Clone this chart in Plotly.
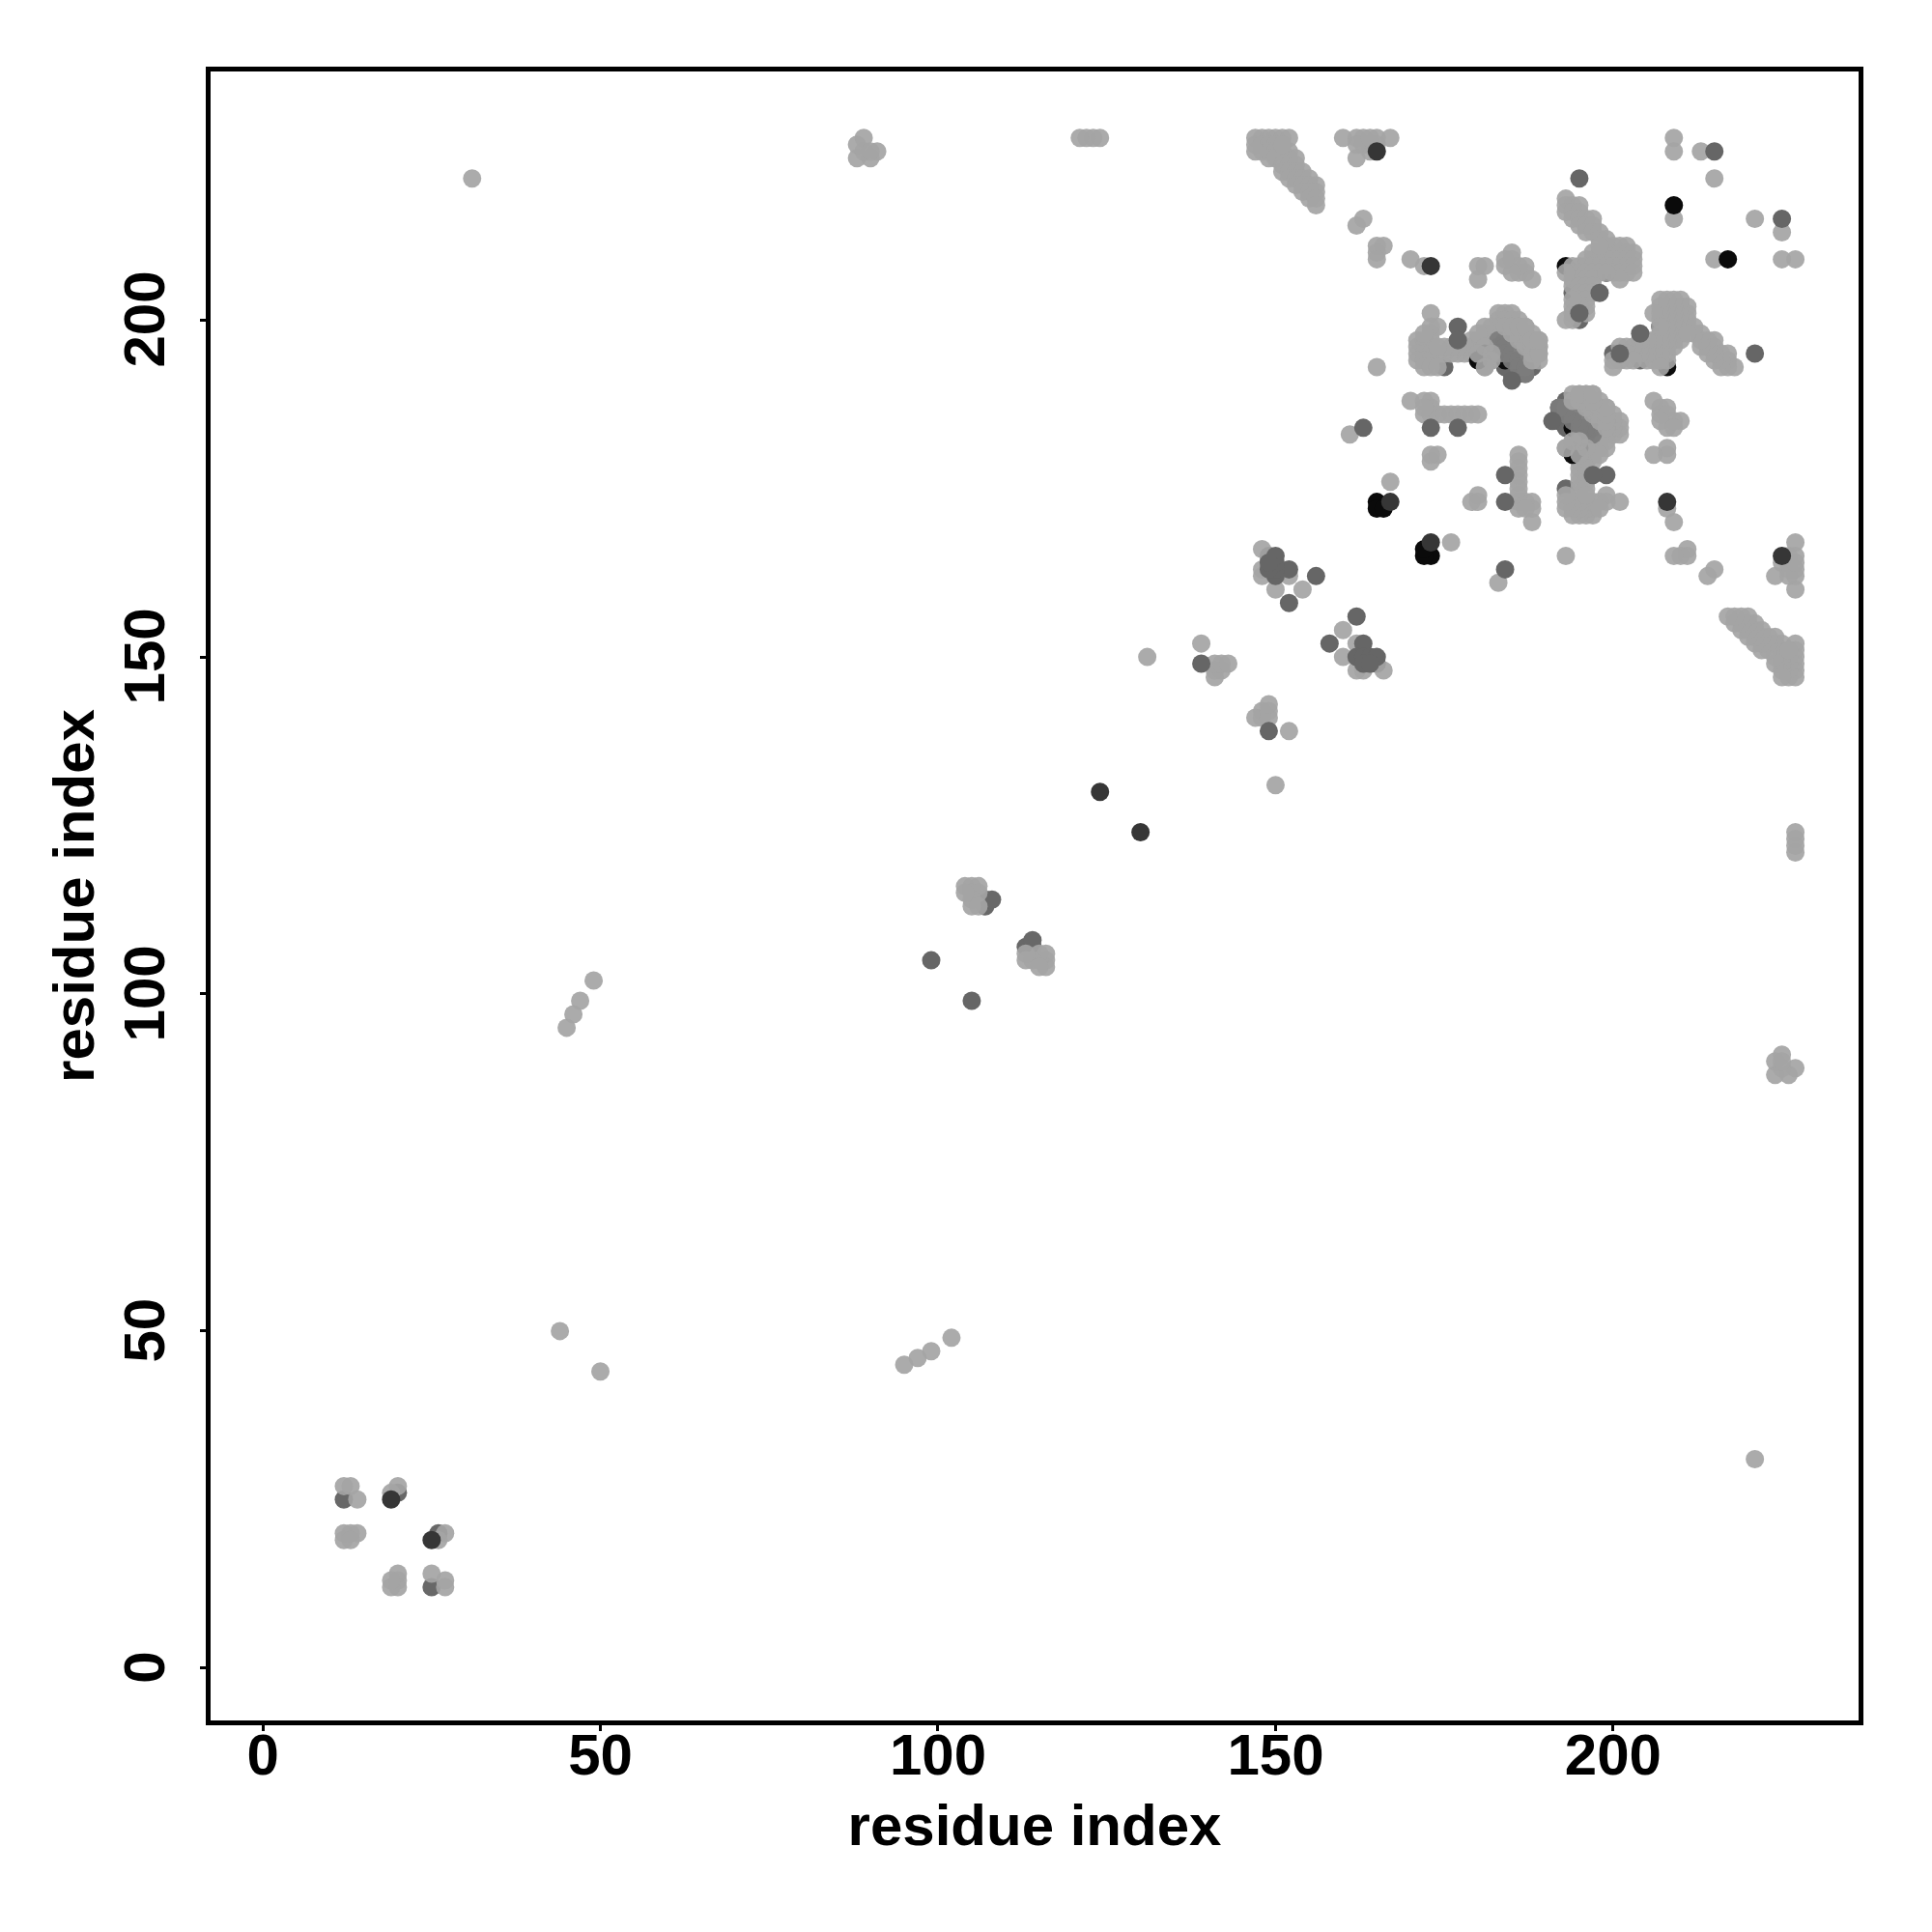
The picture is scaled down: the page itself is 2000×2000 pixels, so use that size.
import plotly.graph_objects as go

tick_values = [0, 50, 100, 150, 200]
axis_title = "residue index"

light_contacts = [
 (13,27),(12,27),(14,25),(20,27),(19,26),(26,19),(27,20),(12,20),(13,20),(14,20),(12,19),(13,19),(25,14),(27,13),(27,12),
 (221,31),(50,44),(95,45),(97,46),(99,47),(102,49),
 (116,104),(116,105),(116,106),(115,105),(115,106),(114,105),(113,105),(113,106),(115,104),
 (150,131),(152,139),(147,141),(148,141),(148,142),(149,141),(149,142),(149,143),
 (160,154),(162,152),(160,150),(162,148),(166,148),(163,148),
 (224,88),(226,88),(227,89),(225,91),(224,90),(225,89),(225,90),(227,124),(227,123),(227,122),(227,121),
 (147,227),(148,227),(149,227),(150,227),(151,227),(152,227),(147,226),(148,226),(149,226),(150,226),
 (148,225),(149,225),(150,225),(151,225),(152,225),(149,224),(150,224),(152,224),(153,224),
 (151,223),(152,223),(153,223),(151,222),(152,222),(153,222),(154,222),(152,221),(153,221),(154,221),(155,221),
 (153,220),(154,220),(155,220),(156,220),(154,219),(155,219),(156,219),(155,218),(156,218),(156,217),
 (160,227),(162,227),(163,227),(165,227),(167,227),(162,224),(163,226),(164,226),(165,226),
 (209,227),(209,225),(213,225),(215,221),(209,215),(221,215),(225,213),(215,209),(225,209),(227,209),
 (163,215),(162,214),(165,211),(166,211),(165,210),(165,209),(170,209),(172,208),
 (180,208),(181,208),(180,206),(185,210),(185,209),(184,208),(187,208),(186,207),(187,207),(188,206),
 (193,218),(193,217),(194,217),(195,217),(193,216),(194,216),(195,216),(194,215),(195,215),(196,215),(197,215),
 (195,214),(196,214),(197,214),(196,213),(197,213),(198,213),
 (199,211),(200,211),(201,211),(202,211),(197,210),(198,210),(199,210),(200,210),(201,210),(202,210),(203,210),
 (196,209),(197,209),(198,209),(199,209),(200,209),(201,209),(202,209),(203,209),
 (194,208),(195,208),(196,208),(197,208),(198,208),(199,208),(200,208),(201,208),(202,208),(203,208),
 (194,207),(195,207),(196,207),(197,207),(198,207),(200,207),(201,207),(202,207),(203,207),
 (194,206),(195,206),(196,206),(197,206),(201,206),(194,205),(195,205),(196,205),(197,205),
 (195,204),(196,204),(197,204),(195,203),(196,203),(194,202),(196,202),(194,201),
 (173,201),(174,199),(173,198),(171,197),(172,197),(173,197),(171,196),(172,196),(173,196),
 (171,195),(172,195),(173,195),(174,195),(175,195),(176,195),(177,195),(178,195),
 (171,194),(172,194),(173,194),(172,193),(173,193),(174,193),(165,193),
 (183,201),(184,201),(185,201),(183,200),(184,200),(185,200),(186,200),
 (183,199),(184,199),(185,199),(186,199),(187,199),(181,198),(182,198),(183,198),(184,198),(185,198),(186,198),(187,198),(188,198),
 (179,197),(180,197),(181,197),(182,197),(183,197),(186,197),(187,197),(188,197),(189,197),
 (179,196),(180,196),(181,196),(182,196),(183,196),(187,196),(188,196),(189,196),
 (179,195),(180,195),(182,195),(183,195),(187,195),(188,195),(189,195),
 (181,194),(182,194),(188,194),(181,193),
 (212,198),(213,198),(213,197),(214,197),(215,197),(213,196),(214,196),(215,196),(215,195),(216,195),(217,195),
 (215,194),(216,194),(217,194),(216,193),(217,193),(218,193),
 (208,202),(209,202),(210,202),(206,201),(207,201),(208,201),(209,201),(210,201),(211,201),
 (207,200),(208,200),(209,200),(210,200),(211,200),(207,199),(208,199),(209,199),(210,199),(211,199),(212,199),
 (207,198),(208,198),(209,198),(210,198),(211,198),(207,197),(208,197),(209,197),(210,197),(208,196),(207,196),(206,196),(205,196),
 (201,196),(202,196),(203,196),(201,195),(202,195),(203,195),(204,195),(205,195),(206,195),(207,195),(208,195),
 (200,194),(201,194),(202,194),(203,194),(205,194),(206,194),(207,194),(208,194),(207,193),(200,193 ),
 (170,188),(172,188),(173,188),(173,187),(172,186),(173,186),(174,186),(175,186),(176,186),(177,186),(178,186),(179,186),(180,186),(161,183),
 (194,189),(195,189),(196,189),(194,188),(195,188),(196,188),(197,188),(195,187),(196,187),(197,187),(198,187),
 (196,186),(197,186),(198,186),(197,185),(198,185),(199,185),(200,185),(197,184),(198,184),(199,184),(200,184),(201,184),
 (195,183),(196,183),(197,183),(198,183),(199,183),(200,183),(201,183),(195,182),(196,182),(197,182),(198,182),(199,182),
 (196,181),(197,181),(198,181),(199,181),(195,180),(196,180),(197,180),(198,180),
 (195,179),(196,179),(197,179),(195,178),(196,178),(195,177),(196,177),(195,176),(196,176),(195,175),(196,175),
 (195,174),(196,174),(199,174),(193,173),(194,173),(195,173),(196,173),(197,173),(198,173),(199,173),(201,173),
 (193,172),(194,172),(195,172),(196,172),(197,172),(198,172),(194,171),(195,171),(196,171),(197,171),
 (206,188),(208,187),(207,186),(208,186),(207,185),(209,185),(210,185),(208,184),(209,184),
 (206,180),(208,181),(208,180),(208,172),(209,170),(209,165),(210,165),(211,166),(193,165),
 (167,176),(176,167),(183,161),(186,180),(186,179),(186,178),(186,177),(186,176),(186,175),(186,174),
 (186,173),(187,173),(188,173),(186,172),(187,172),(188,172),(188,170),(180,174),(179,173),(180,173),
 (173,180),(174,180),(173,179),(215,163),(214,162),
 (227,167),(227,165),(226,165),(225,164),(224,162),(227,163),(227,162),(226,163),(226,162),(227,160),(227,164),
 (217,156),(218,156),(219,156),(220,156),(218,155),(219,155),(220,155),(221,155),(219,154),(220,154),(221,154),(222,154),
 (220,153),(221,153),(222,153),(223,153),(224,153),(221,152),(222,152),(223,152),(224,152),(225,152),(227,152),
 (225,151),(226,151),(224,150),(225,150),(226,150),(227,150),(224,149),(225,149),(226,149),(227,149),
 (225,148),(226,148),(227,148),(225,147),(226,147),(227,147),
]
shade_contacts = [
 (183,197),(184,197),(183,196),(184,196),(183,195),(184,195),(185,195),(185,194),(186,194),(186,193),(187,193),(187,192),
]
cap_contacts = [
 (186,197),(187,197),(187,196),(188,196),(188,195),(188,194),(189,196),(189,195),(186,198),(187,198),(185,198),
 (184,199),(185,199),(186,199),(187,199),(188,197),(189,197),
 (181,196),(180,195),(182,195),(182,194),(181,193),
]
mid_under_contacts = [
 (12,25),(20,26),(26,20),(25,12),(113,107),(114,107),(114,108),(184,193),(185,192),(186,192),(188,193),
 (192,187),(192,186),(192,185),(165,149),(164,149),(194,204),(175,193),(204,194),(200,195),
]
black_under_contacts = [
 (193,208),(199,207),(207,199),(208,193),
]
black_mid_contacts = [
 (180,194),(181,195),(184,194),
]
mid_over_contacts = [
 (105,99),(149,139),(162,156),(158,152),(163,152),(162,150),(163,150),(164,150),(165,150),(163,149),
 (150,165),(150,164),(149,164),(150,163),(150,162),(152,163),(156,162),(152,158),
 (215,225),(195,221),(225,215),(198,204),(195,201),(177,199),(177,197),(185,191),(221,195),(204,198),
 (173,184),(177,184),(163,184),(191,185),(197,177),(199,177),(184,177),(184,173),(184,163),
]
dark_over_contacts = [
 (165,225),(173,208),(19,25),(25,19),(130,124),(167,173),(173,167),(208,173),(225,165),
]
black_over_contacts = [
 (209,217),(217,209),(165,173),(165,172),(166,172),(172,166),(172,165),(173,165),
]

layers = [
 (black_under_contacts, "#0c0c0c", 1.0),
 (mid_under_contacts, "#686868", 1.0),
 (light_contacts, "#a4a4a4", 0.92),
 (black_mid_contacts, "#0c0c0c", 1.0),
 (shade_contacts, "#7c7c7c", 0.9),
 (cap_contacts, "#a4a4a4", 0.92),
 (black_over_contacts, "#0a0a0a", 1.0),
 (mid_over_contacts, "#666666", 1.0),
 (dark_over_contacts, "#363636", 1.0),
]

fig = go.Figure()
for contacts, colour, alpha in layers:
    both = []
    seen = set()
    for a, b in contacts:
        for p in ((a, b), (b, a)):
            if p not in seen:
                seen.add(p)
                both.append(p)
    fig.add_trace(go.Scatter(
        x=[p[0] for p in both], y=[p[1] for p in both], mode="markers",
        marker=dict(size=19, color=colour, opacity=alpha, line=dict(width=0)),
        showlegend=False, hoverinfo="skip"))

FONT = dict(family="Liberation Sans", size=60, color="black", weight="bold")
common = dict(
    showgrid=False, zeroline=False, showline=True, mirror=True, linecolor="black", linewidth=5,
    ticks="outside", ticklen=6, tickwidth=3, tickcolor="black",
    tickmode="array", tickvals=tick_values,
    tickfont=FONT,
)
fig.update_xaxes(range=[-7.74, 236.36], ticklabelstandoff=-27, ticktext=[str(v) for v in tick_values],
                 title=dict(text=axis_title, font=FONT, standoff=20), **common)
fig.update_yaxes(range=[-7.77, 236.86], tickangle=-90, ticklabelstandoff=13,
                 ticktext=[str(v) + "\u00a0" for v in tick_values],
                 title=dict(text=axis_title, font=FONT, standoff=1), **common)
fig.update_layout(
    width=2000, height=2000, paper_bgcolor="white", plot_bgcolor="white",
    margin=dict(l=210.2, r=83.5, t=66, b=226.5, autoexpand=False),
)
fig.write_html("out.html")
